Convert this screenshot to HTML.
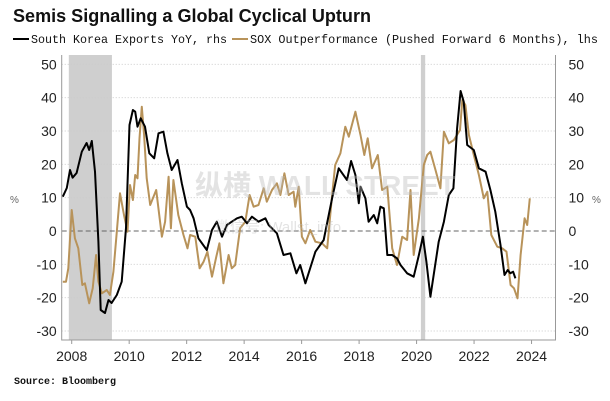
<!DOCTYPE html>
<html><head><meta charset="utf-8"><style>
body{margin:0;background:#fff;}
svg{display:block;font-family:"Liberation Sans",sans-serif;}
</style></head><body>
<svg id="chart" width="610" height="401" viewBox="0 0 610 401" xmlns="http://www.w3.org/2000/svg">
<rect width="610" height="401" fill="#fff"/>
<text x="13" y="22" font-size="18" font-weight="bold" fill="#111" textLength="358" lengthAdjust="spacingAndGlyphs">Semis Signalling a Global Cyclical Upturn</text>
<g font-family="Liberation Mono, monospace" font-size="12" fill="#111">
<line x1="13" y1="39" x2="29" y2="39" stroke="#000" stroke-width="2"/>
<text x="31" y="43" textLength="196" lengthAdjust="spacingAndGlyphs">South Korea Exports YoY, rhs</text>
<line x1="232" y1="39" x2="248" y2="39" stroke="#b8935a" stroke-width="2"/>
<text x="250" y="43" textLength="348" lengthAdjust="spacingAndGlyphs">SOX Outperformance (Pushed Forward 6 Months), lhs</text>
</g>
<g id="plot"></g>
<text x="195" y="195" font-size="28" font-weight="bold" fill="#bbb" opacity="0.4" font-family="Liberation Sans, Noto Sans CJK SC, sans-serif">纵横 WALL STREET</text>
<text x="215" y="232" font-size="15" fill="#bbb" opacity="0.4" font-family="Liberation Sans, Noto Sans CJK SC, sans-serif">微信号: Wallst_info</text>
<text x="10" y="203" font-size="10" fill="#666">%</text>
<text x="592" y="203" font-size="10" fill="#666">%</text>
<text x="14" y="384" font-size="10" font-weight="bold" font-family="Liberation Mono, monospace" fill="#111">Source: Bloomberg</text>
</svg>
<script>
const yearTicks=[2008,2010,2012,2014,2016,2018,2020,2022,2024];
const valueTicks=[-30,-20,-10,0,10,20,30,40,50];
const recessions=[[2007.9,2009.4],[2020.15,2020.3]];
const koreaYears=[2007.69,2007.83,2007.94,2008.03,2008.17,2008.35,2008.52,2008.61,2008.70,2008.81,2008.93,2009.01,2009.16,2009.28,2009.39,2009.57,2009.74,2009.89,2010.01,2010.13,2010.21,2010.29,2010.40,2010.55,2010.70,2010.87,2011.02,2011.19,2011.33,2011.48,2011.68,2011.83,2012.01,2012.12,2012.24,2012.41,2012.70,2012.88,2013.05,2013.23,2013.40,2013.57,2013.75,2013.92,2014.10,2014.27,2014.50,2014.74,2014.85,2015.14,2015.37,2015.61,2015.82,2015.95,2016.13,2016.48,2016.77,2017.06,2017.29,2017.58,2017.72,2017.87,2017.99,2018.05,2018.22,2018.33,2018.51,2018.63,2018.74,2018.86,2018.98,2019.15,2019.32,2019.44,2019.67,2019.90,2020.08,2020.22,2020.34,2020.48,2020.77,2020.95,2021.12,2021.28,2021.41,2021.53,2021.64,2021.76,2021.99,2022.17,2022.40,2022.57,2022.74,2022.92,2023.06,2023.17,2023.26,2023.36,2023.44];
const koreaValues=[10.3,12.9,18.3,16,17.4,23.8,26.4,24.3,27,17.8,-3.2,-23.7,-24.6,-20.7,-21.6,-19.2,-15.2,0.9,31.8,36.3,35.8,31.3,33.8,31.3,23.3,21.8,29.3,29.8,23.3,18.3,21.3,14.3,7.3,6.3,3.8,-2.2,-5.7,0.3,2.8,-1.7,1.8,2.8,3.8,4.3,2.3,4.3,2.8,3.8,1.8,-0.7,-7.2,-6.7,-12.7,-10.2,-15.7,-6.2,-2.7,9.8,18.8,15.3,21,16.8,8.3,13.3,9.8,2.8,4.8,2.3,7.3,6.8,-7.2,-7.2,-8.2,-10.2,-12.7,-13.7,-7.2,-1.7,-9.2,-19.7,-3.2,2.8,10.8,12.8,30.8,42,38.8,25.8,24.3,18.8,17.8,12.3,5.8,-4.2,-13.2,-11.7,-12.7,-12.2,-14.2];
const soxYears=[2007.69,2007.80,2007.88,2008.00,2008.11,2008.23,2008.37,2008.46,2008.61,2008.73,2008.85,2008.93,2009.05,2009.22,2009.33,2009.45,2009.57,2009.68,2009.82,2009.94,2010.03,2010.13,2010.21,2010.29,2010.36,2010.44,2010.52,2010.61,2010.73,2010.94,2011.14,2011.25,2011.37,2011.45,2011.54,2011.71,2011.89,2012.03,2012.12,2012.30,2012.45,2012.59,2012.72,2012.88,2013.03,2013.14,2013.28,2013.46,2013.57,2013.69,2013.86,2014.04,2014.19,2014.33,2014.50,2014.68,2014.79,2014.97,2015.14,2015.26,2015.40,2015.55,2015.72,2015.78,2015.90,2016.01,2016.13,2016.30,2016.48,2016.71,2016.89,2017.06,2017.17,2017.35,2017.52,2017.64,2017.87,2018.05,2018.18,2018.30,2018.45,2018.65,2018.80,2018.98,2019.15,2019.32,2019.50,2019.67,2019.79,2019.90,2020.08,2020.25,2020.37,2020.48,2020.66,2020.83,2020.95,2021.12,2021.30,2021.51,2021.59,2021.70,2021.82,2021.99,2022.17,2022.34,2022.46,2022.60,2022.81,2022.98,2023.13,2023.27,2023.39,2023.51,2023.62,2023.76,2023.85,2023.94];
const soxValues=[-15.2,-15.2,-11.2,6.3,-2.2,-5.2,-16.2,-15.7,-21.7,-17.2,-7.2,-15.2,-18.7,-17.7,-19.2,-12.2,-0.2,11.3,4.8,-0.2,13.8,9.3,16.8,15.8,27.8,37.3,28.8,15.8,7.8,12.3,-1.7,2.8,16.3,0.8,15.3,4.8,-1.2,-5.2,-1.2,-1.7,-11.2,-9.2,-6.2,-13.7,-7.7,-3.7,-15.7,-7.2,-11.2,-10.2,0.8,2.8,10.8,7.3,7.8,12.8,8.8,12.3,14.3,10.8,17.3,10.8,11.8,7.3,13.3,-1.7,-3.7,0.3,-3.2,-3.7,-5.2,10.8,19.8,23.3,31.3,28.3,35.8,28.8,22.8,27.8,18.8,22.8,12.3,13.3,-5.2,-10.2,-1.7,-2.7,12.3,-7.2,3.8,19.8,22.8,23.8,18.3,12.8,29.8,26.3,27.3,30.3,39.3,37.8,28.8,22.8,16.8,9.8,11.8,-1.2,-4.7,-5.2,-6.2,-16.2,-17.2,-20.2,-7.2,3.8,1.8,9.8];

const L=61.7,R=555.5,T=55,B=340;
const X=y=>71.7+(y-2008)*28.74;
const Y=v=>231-v*3.333;
const NS='http://www.w3.org/2000/svg';
const plot=document.getElementById('plot');
function mk(tag,attrs){const e=document.createElementNS(NS,tag);for(const k in attrs)e.setAttribute(k,attrs[k]);plot.appendChild(e);return e;}
recessions.forEach(r=>{
 const e=mk('rect',{x:X(r[0]),y:T,width:X(r[1])-X(r[0]),height:B-T,fill:'#cfcfcf'});
 
 
});
valueTicks.forEach(v=>{
 const g=mk('line',{x1:L,x2:R,y1:Y(v),y2:Y(v),stroke:v===0?'#666':'#ccc','stroke-width':1,'stroke-dasharray':v===0?'5,3':'1,2'});
 
 
 const t1=mk('text',{x:L-5,y:Y(v)+5,'text-anchor':'end','font-size':14,fill:'#222'});
 t1.textContent=v;
 
 
 const t2=mk('text',{x:R+13,y:Y(v)+5,'font-size':14,fill:'#222'});
 t2.textContent=v;
 
 
});
const ax=mk('path',{d:`M${L},${T}V${B}H${R}V${T}`,fill:'none',stroke:'#999','stroke-width':1});


yearTicks.forEach(y=>{
 const tk=mk('line',{x1:X(y),x2:X(y),y1:B,y2:B+4,stroke:'#999'});
 
 
 const t=mk('text',{x:X(y),y:B+21,'text-anchor':'middle','font-size':14,fill:'#222'});
 t.textContent=y;
 
 
});
function line(xs,vs,color,name){
 const d=xs.map((x,i)=>(i?'L':'M')+X(x).toFixed(1)+','+Y(vs[i]).toFixed(1)).join('');
 const p=mk('path',{d,fill:'none',stroke:color,'stroke-width':2,'stroke-linejoin':'round'});
 
 
}
line(soxYears,soxValues,'#b8935a','sox-outperformance-line');
line(koreaYears,koreaValues,'#000','korea-exports-line');
</script>
</body></html>
